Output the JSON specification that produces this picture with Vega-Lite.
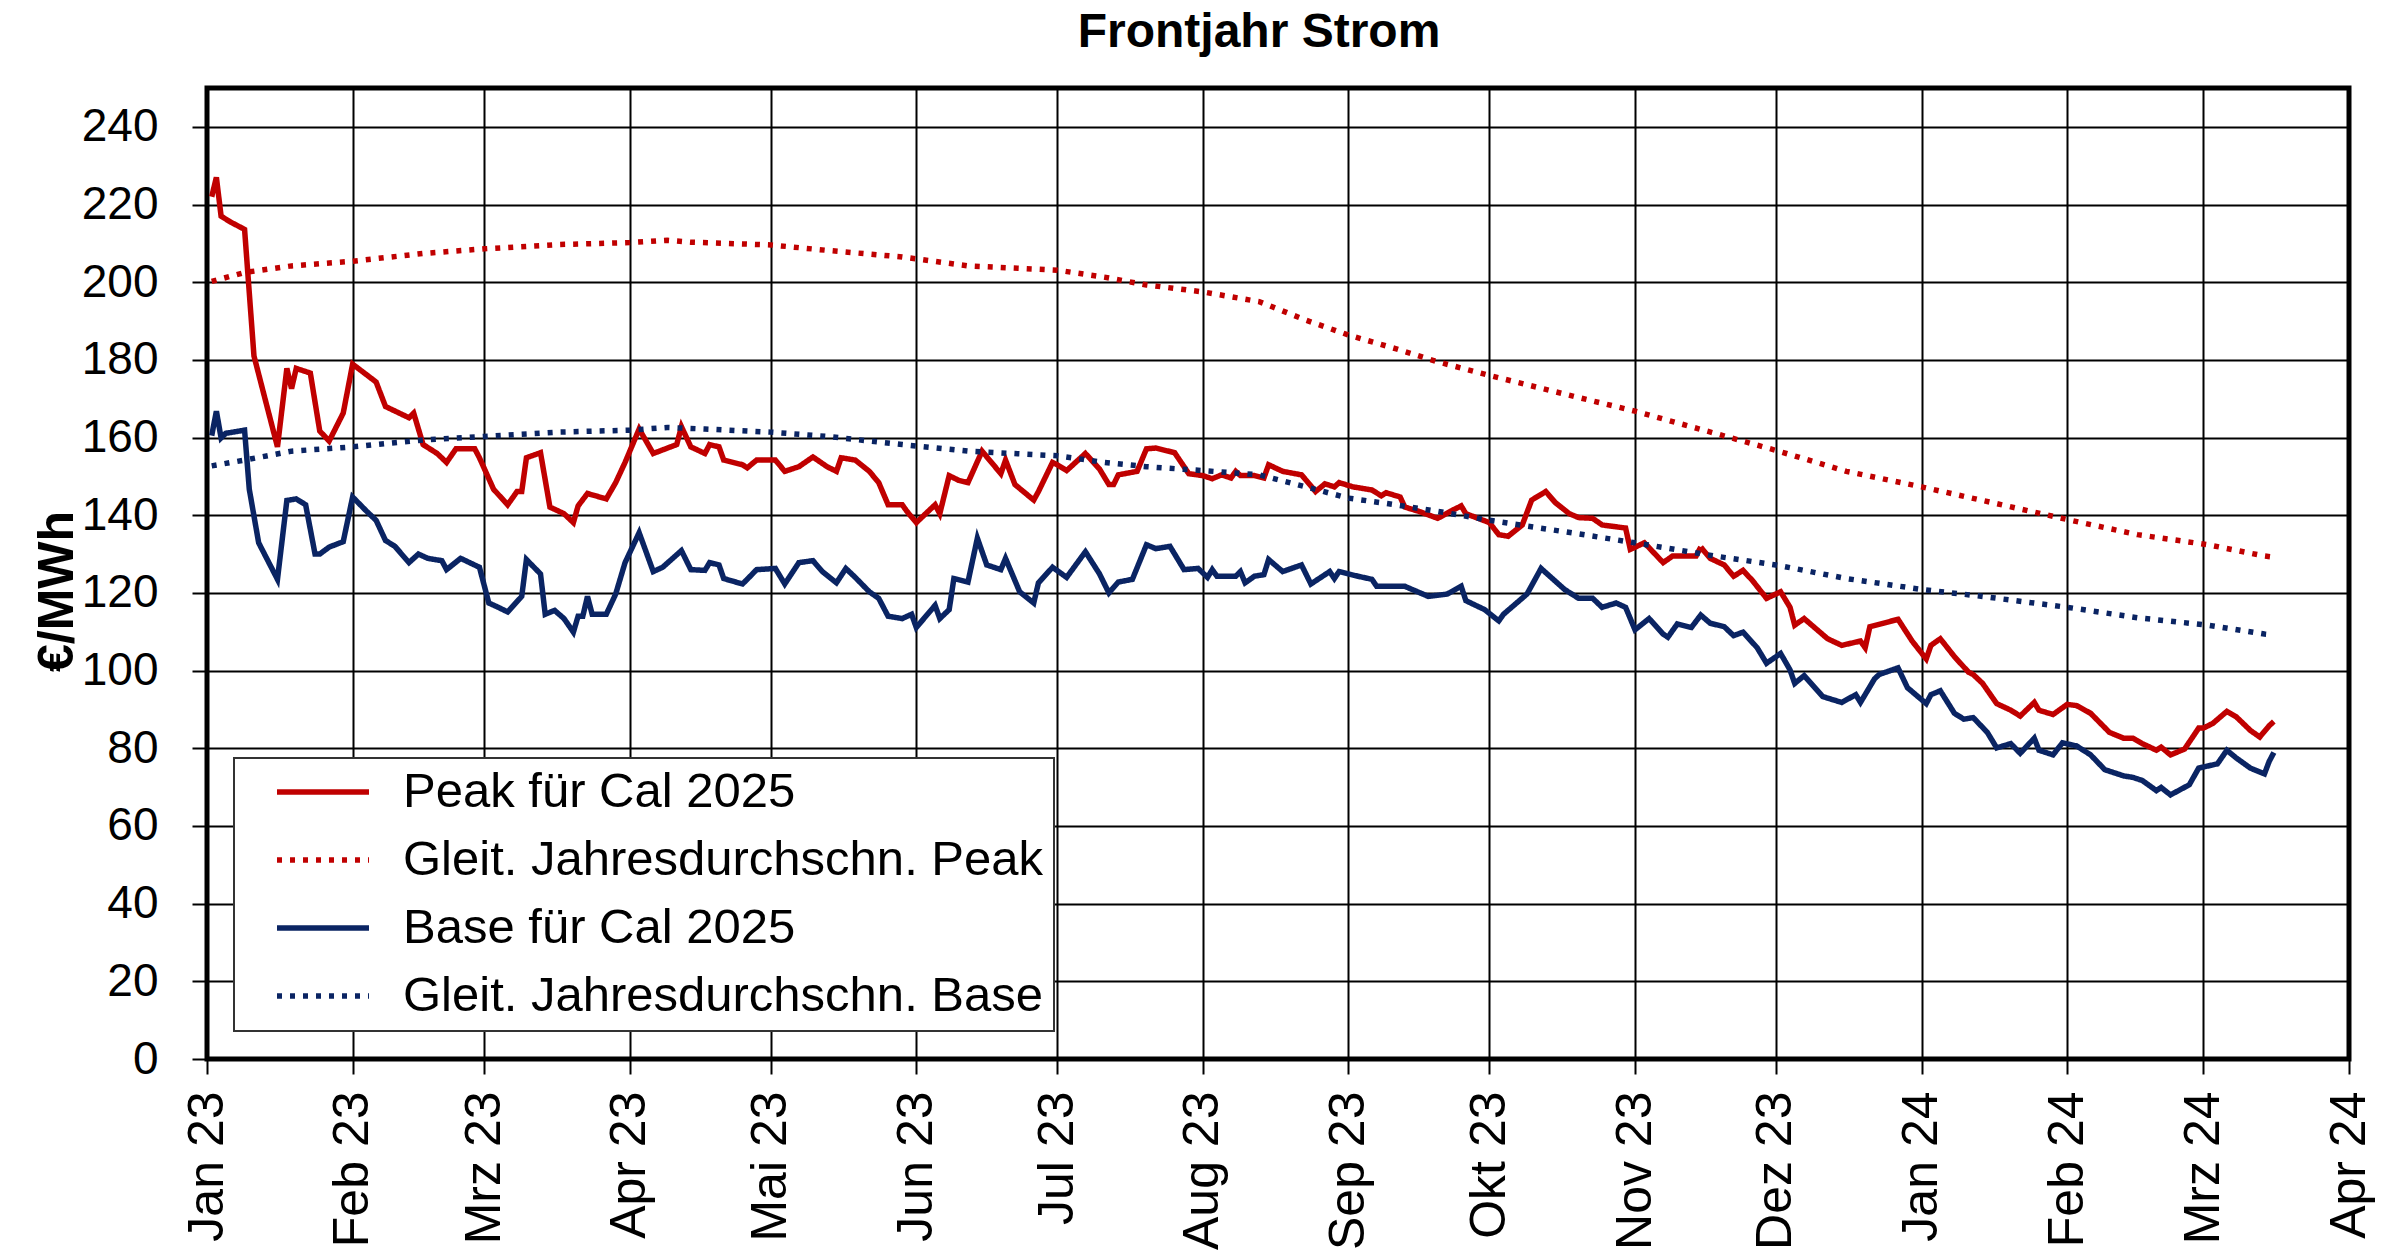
{
"$schema": "https://vega.github.io/schema/vega-lite/v6.json",
"width": 2142, "height": 971,
"autosize": {"type": "none"},
"padding": {"left": 207, "top": 88, "right": 51, "bottom": 193},
"background": "white",
"title": {"text": "Frontjahr Strom", "font": "Liberation Sans", "fontSize": 48, "fontWeight": "bold", "color": "black", "anchor": "middle", "frame": "group", "dx": -19, "offset": 31},
"config": {
  "view": {"stroke": "black", "strokeWidth": 5},
  "font": "Liberation Sans",
  "axis": {"labelFont": "Liberation Sans", "labelColor": "black", "labelFontSize": 46, "tickColor": "black", "tickWidth": 2, "tickSize": 15, "grid": true, "gridColor": "black", "gridWidth": 2, "gridOpacity": 1, "domain": false, "labelOverlap": false, "labelFlush": false, "labelBound": false},
  "legend": {"fillColor": "white", "strokeColor": "#333333", "strokeWidth": 2, "padding": 10,
      "symbolType": "stroke", "symbolSize": 8464, "symbolStrokeWidth": 5.5, "symbolOffset": 30,
      "labelFont": "Liberation Sans", "labelFontSize": 49, "labelOffset": 31, "labelColor": "black", "labelLimit": 0,
      "clipHeight": 48, "rowPadding": 19}
},
"datasets": {
"rows": [
{"s":"p","d":"2023-01-02","v":222},{"s":"p","d":"2023-01-03","v":227},{"s":"p","d":"2023-01-04","v":217},{"s":"p","d":"2023-01-06","v":215.5},{"s":"p","d":"2023-01-09","v":213.6},{"s":"p","d":"2023-01-11","v":181},{"s":"p","d":"2023-01-16","v":157.6},{"s":"p","d":"2023-01-18","v":177.8},{"s":"p","d":"2023-01-19","v":172.6},{"s":"p","d":"2023-01-20","v":177.8},{"s":"p","d":"2023-01-23","v":176.6},{"s":"p","d":"2023-01-25","v":161.7},{"s":"p","d":"2023-01-27","v":159.1},{"s":"p","d":"2023-01-30","v":166.3},
{"s":"p","d":"2023-02-01","v":178.9},{"s":"p","d":"2023-02-06","v":174.3},{"s":"p","d":"2023-02-08","v":168},{"s":"p","d":"2023-02-13","v":165.1},{"s":"p","d":"2023-02-14","v":166.3},{"s":"p","d":"2023-02-16","v":158.2},{"s":"p","d":"2023-02-19","v":155.9},{"s":"p","d":"2023-02-21","v":153.6},{"s":"p","d":"2023-02-23","v":157.1},{"s":"p","d":"2023-02-27","v":157.1},{"s":"p","d":"2023-02-28","v":154.8},
{"s":"p","d":"2023-03-03","v":146.7},{"s":"p","d":"2023-03-06","v":142.7},{"s":"p","d":"2023-03-08","v":146.1},{"s":"p","d":"2023-03-09","v":146.1},{"s":"p","d":"2023-03-10","v":154.8},{"s":"p","d":"2023-03-13","v":156.1},{"s":"p","d":"2023-03-15","v":142.1},{"s":"p","d":"2023-03-18","v":140.4},{"s":"p","d":"2023-03-20","v":138.1},{"s":"p","d":"2023-03-21","v":142.4},{"s":"p","d":"2023-03-23","v":145.6},{"s":"p","d":"2023-03-27","v":144.2},{"s":"p","d":"2023-03-29","v":148.4},{"s":"p","d":"2023-03-31","v":153.6},
{"s":"p","d":"2023-04-03","v":162.2},{"s":"p","d":"2023-04-06","v":155.9},{"s":"p","d":"2023-04-11","v":158.2},{"s":"p","d":"2023-04-12","v":162.8},{"s":"p","d":"2023-04-14","v":157.6},{"s":"p","d":"2023-04-17","v":155.9},{"s":"p","d":"2023-04-18","v":158.2},{"s":"p","d":"2023-04-20","v":157.6},{"s":"p","d":"2023-04-21","v":154.2},{"s":"p","d":"2023-04-25","v":153},{"s":"p","d":"2023-04-26","v":152.2},{"s":"p","d":"2023-04-28","v":154.2},
{"s":"p","d":"2023-05-02","v":154.2},{"s":"p","d":"2023-05-04","v":151.3},{"s":"p","d":"2023-05-07","v":152.5},{"s":"p","d":"2023-05-10","v":155},{"s":"p","d":"2023-05-13","v":152.5},{"s":"p","d":"2023-05-15","v":151.3},{"s":"p","d":"2023-05-16","v":154.8},{"s":"p","d":"2023-05-19","v":154.2},{"s":"p","d":"2023-05-22","v":151.3},{"s":"p","d":"2023-05-24","v":148.4},{"s":"p","d":"2023-05-26","v":142.7},{"s":"p","d":"2023-05-29","v":142.7},{"s":"p","d":"2023-05-30","v":141},
{"s":"p","d":"2023-06-01","v":138.1},{"s":"p","d":"2023-06-03","v":140.4},{"s":"p","d":"2023-06-05","v":142.7},{"s":"p","d":"2023-06-06","v":140.4},{"s":"p","d":"2023-06-08","v":150.2},{"s":"p","d":"2023-06-10","v":149},{"s":"p","d":"2023-06-12","v":148.4},{"s":"p","d":"2023-06-15","v":156.5},{"s":"p","d":"2023-06-19","v":150.7},{"s":"p","d":"2023-06-20","v":154.2},{"s":"p","d":"2023-06-22","v":147.9},{"s":"p","d":"2023-06-26","v":143.9},{"s":"p","d":"2023-06-27","v":146.1},{"s":"p","d":"2023-06-30","v":153.6},
{"s":"p","d":"2023-07-01","v":153},{"s":"p","d":"2023-07-03","v":151.5},{"s":"p","d":"2023-07-07","v":155.9},{"s":"p","d":"2023-07-10","v":151.9},{"s":"p","d":"2023-07-12","v":147.9},{"s":"p","d":"2023-07-13","v":147.9},{"s":"p","d":"2023-07-14","v":150.4},{"s":"p","d":"2023-07-18","v":151.3},{"s":"p","d":"2023-07-20","v":157.1},{"s":"p","d":"2023-07-22","v":157.3},{"s":"p","d":"2023-07-26","v":156.1},{"s":"p","d":"2023-07-29","v":150.7},
{"s":"p","d":"2023-08-01","v":150.2},{"s":"p","d":"2023-08-03","v":149.4},{"s":"p","d":"2023-08-05","v":150.4},{"s":"p","d":"2023-08-07","v":149.6},{"s":"p","d":"2023-08-08","v":151.3},{"s":"p","d":"2023-08-09","v":150.2},{"s":"p","d":"2023-08-12","v":150.2},{"s":"p","d":"2023-08-14","v":149.6},{"s":"p","d":"2023-08-15","v":153},{"s":"p","d":"2023-08-18","v":151.3},{"s":"p","d":"2023-08-22","v":150.4},{"s":"p","d":"2023-08-23","v":149},{"s":"p","d":"2023-08-25","v":146.1},{"s":"p","d":"2023-08-27","v":148.1},{"s":"p","d":"2023-08-29","v":147.3},{"s":"p","d":"2023-08-30","v":148.4},
{"s":"p","d":"2023-09-02","v":147.3},{"s":"p","d":"2023-09-06","v":146.5},{"s":"p","d":"2023-09-08","v":145},{"s":"p","d":"2023-09-09","v":145.8},{"s":"p","d":"2023-09-12","v":144.7},{"s":"p","d":"2023-09-13","v":142.1},{"s":"p","d":"2023-09-16","v":141},{"s":"p","d":"2023-09-20","v":139.2},{"s":"p","d":"2023-09-23","v":141.2},{"s":"p","d":"2023-09-25","v":142.4},{"s":"p","d":"2023-09-26","v":140.4},
{"s":"p","d":"2023-10-01","v":138.1},{"s":"p","d":"2023-10-03","v":135},{"s":"p","d":"2023-10-05","v":134.6},{"s":"p","d":"2023-10-08","v":137.5},{"s":"p","d":"2023-10-10","v":143.9},{"s":"p","d":"2023-10-13","v":146.1},{"s":"p","d":"2023-10-15","v":143.3},{"s":"p","d":"2023-10-18","v":140.4},{"s":"p","d":"2023-10-20","v":139.4},{"s":"p","d":"2023-10-23","v":139.2},{"s":"p","d":"2023-10-25","v":137.5},{"s":"p","d":"2023-10-30","v":136.7},{"s":"p","d":"2023-10-31","v":131.2},
{"s":"p","d":"2023-11-03","v":132.9},{"s":"p","d":"2023-11-07","v":127.8},{"s":"p","d":"2023-11-09","v":129.5},{"s":"p","d":"2023-11-14","v":129.5},{"s":"p","d":"2023-11-15","v":131.8},{"s":"p","d":"2023-11-17","v":128.9},{"s":"p","d":"2023-11-20","v":127.2},{"s":"p","d":"2023-11-22","v":124.3},{"s":"p","d":"2023-11-24","v":125.8},{"s":"p","d":"2023-11-26","v":123.2},{"s":"p","d":"2023-11-29","v":118.6},
{"s":"p","d":"2023-12-02","v":120.3},{"s":"p","d":"2023-12-04","v":116.3},{"s":"p","d":"2023-12-05","v":111.7},{"s":"p","d":"2023-12-07","v":113.4},{"s":"p","d":"2023-12-12","v":108.2},{"s":"p","d":"2023-12-15","v":106.5},{"s":"p","d":"2023-12-19","v":107.6},{"s":"p","d":"2023-12-20","v":105.9},{"s":"p","d":"2023-12-21","v":111.3},{"s":"p","d":"2023-12-27","v":113.2},{"s":"p","d":"2023-12-30","v":107.6},
{"s":"p","d":"2024-01-02","v":103},{"s":"p","d":"2024-01-03","v":106.5},{"s":"p","d":"2024-01-05","v":108.2},{"s":"p","d":"2024-01-08","v":103.6},{"s":"p","d":"2024-01-11","v":99.6},{"s":"p","d":"2024-01-12","v":99},{"s":"p","d":"2024-01-14","v":96.7},{"s":"p","d":"2024-01-17","v":91.5},{"s":"p","d":"2024-01-20","v":89.8},{"s":"p","d":"2024-01-22","v":88.3},{"s":"p","d":"2024-01-25","v":91.8},{"s":"p","d":"2024-01-26","v":89.8},{"s":"p","d":"2024-01-29","v":88.7},
{"s":"p","d":"2024-02-01","v":91.3},{"s":"p","d":"2024-02-03","v":91},{"s":"p","d":"2024-02-06","v":89},{"s":"p","d":"2024-02-10","v":84.1},{"s":"p","d":"2024-02-13","v":82.6},{"s":"p","d":"2024-02-15","v":82.6},{"s":"p","d":"2024-02-17","v":81.2},{"s":"p","d":"2024-02-20","v":79.5},{"s":"p","d":"2024-02-21","v":80.3},{"s":"p","d":"2024-02-23","v":78.3},{"s":"p","d":"2024-02-26","v":79.8},{"s":"p","d":"2024-02-29","v":85.2},
{"s":"p","d":"2024-03-01","v":85.2},{"s":"p","d":"2024-03-03","v":86.4},{"s":"p","d":"2024-03-06","v":89.5},{"s":"p","d":"2024-03-08","v":88.1},{"s":"p","d":"2024-03-11","v":84.6},{"s":"p","d":"2024-03-13","v":82.9},{"s":"p","d":"2024-03-15","v":85.8},{"s":"p","d":"2024-03-16","v":86.9},

{"s":"b","d":"2023-01-02","v":160.5},{"s":"b","d":"2023-01-03","v":166.8},{"s":"b","d":"2023-01-04","v":159.9},{"s":"b","d":"2023-01-05","v":161.1},{"s":"b","d":"2023-01-09","v":161.9},{"s":"b","d":"2023-01-10","v":146.7},{"s":"b","d":"2023-01-12","v":132.9},{"s":"b","d":"2023-01-16","v":123.5},{"s":"b","d":"2023-01-18","v":143.8},{"s":"b","d":"2023-01-20","v":144.2},{"s":"b","d":"2023-01-22","v":142.7},{"s":"b","d":"2023-01-24","v":130},{"s":"b","d":"2023-01-25","v":130},{"s":"b","d":"2023-01-27","v":131.8},{"s":"b","d":"2023-01-30","v":133.2},
{"s":"b","d":"2023-02-01","v":144.7},{"s":"b","d":"2023-02-04","v":141},{"s":"b","d":"2023-02-06","v":138.7},{"s":"b","d":"2023-02-08","v":133.5},{"s":"b","d":"2023-02-10","v":132},{"s":"b","d":"2023-02-13","v":127.8},{"s":"b","d":"2023-02-15","v":130},{"s":"b","d":"2023-02-17","v":128.9},{"s":"b","d":"2023-02-20","v":128.3},{"s":"b","d":"2023-02-21","v":126},{"s":"b","d":"2023-02-24","v":128.9},{"s":"b","d":"2023-02-28","v":126.6},
{"s":"b","d":"2023-03-02","v":117.4},{"s":"b","d":"2023-03-04","v":116.3},{"s":"b","d":"2023-03-06","v":115.1},{"s":"b","d":"2023-03-09","v":119.1},{"s":"b","d":"2023-03-10","v":128.6},{"s":"b","d":"2023-03-13","v":124.9},{"s":"b","d":"2023-03-14","v":114.5},{"s":"b","d":"2023-03-16","v":115.5},{"s":"b","d":"2023-03-18","v":113.4},{"s":"b","d":"2023-03-20","v":109.9},{"s":"b","d":"2023-03-21","v":114},{"s":"b","d":"2023-03-22","v":114},{"s":"b","d":"2023-03-23","v":119.1},{"s":"b","d":"2023-03-24","v":114.5},{"s":"b","d":"2023-03-27","v":114.5},{"s":"b","d":"2023-03-29","v":119.7},{"s":"b","d":"2023-03-31","v":127.8},
{"s":"b","d":"2023-04-03","v":135.5},{"s":"b","d":"2023-04-06","v":125.5},{"s":"b","d":"2023-04-08","v":126.6},{"s":"b","d":"2023-04-12","v":130.9},{"s":"b","d":"2023-04-14","v":126},{"s":"b","d":"2023-04-17","v":125.8},{"s":"b","d":"2023-04-18","v":127.8},{"s":"b","d":"2023-04-20","v":127.2},{"s":"b","d":"2023-04-21","v":123.7},{"s":"b","d":"2023-04-25","v":122.3},{"s":"b","d":"2023-04-26","v":123.5},{"s":"b","d":"2023-04-28","v":126},
{"s":"b","d":"2023-05-02","v":126.3},{"s":"b","d":"2023-05-04","v":122.3},{"s":"b","d":"2023-05-07","v":127.8},{"s":"b","d":"2023-05-10","v":128.3},{"s":"b","d":"2023-05-12","v":125.5},{"s":"b","d":"2023-05-15","v":122.6},{"s":"b","d":"2023-05-17","v":126.3},{"s":"b","d":"2023-05-19","v":124},{"s":"b","d":"2023-05-22","v":120.3},{"s":"b","d":"2023-05-24","v":118.6},{"s":"b","d":"2023-05-26","v":114},{"s":"b","d":"2023-05-29","v":113.4},{"s":"b","d":"2023-05-31","v":114.5},
{"s":"b","d":"2023-06-01","v":111.1},{"s":"b","d":"2023-06-05","v":116.8},{"s":"b","d":"2023-06-06","v":113.4},{"s":"b","d":"2023-06-08","v":115.7},{"s":"b","d":"2023-06-09","v":123.7},{"s":"b","d":"2023-06-12","v":122.8},{"s":"b","d":"2023-06-14","v":134.1},{"s":"b","d":"2023-06-16","v":127.2},{"s":"b","d":"2023-06-19","v":126},{"s":"b","d":"2023-06-20","v":128.9},{"s":"b","d":"2023-06-23","v":120.3},{"s":"b","d":"2023-06-26","v":117.4},{"s":"b","d":"2023-06-27","v":122.6},{"s":"b","d":"2023-06-30","v":126.6},
{"s":"b","d":"2023-07-03","v":124},{"s":"b","d":"2023-07-07","v":130.6},{"s":"b","d":"2023-07-10","v":124.9},{"s":"b","d":"2023-07-12","v":120},{"s":"b","d":"2023-07-14","v":122.8},{"s":"b","d":"2023-07-17","v":123.5},{"s":"b","d":"2023-07-20","v":132.4},{"s":"b","d":"2023-07-22","v":131.4},{"s":"b","d":"2023-07-25","v":132},{"s":"b","d":"2023-07-28","v":126},{"s":"b","d":"2023-07-31","v":126.3},
{"s":"b","d":"2023-08-02","v":124},{"s":"b","d":"2023-08-03","v":126},{"s":"b","d":"2023-08-04","v":124.3},{"s":"b","d":"2023-08-08","v":124.3},{"s":"b","d":"2023-08-09","v":125.5},{"s":"b","d":"2023-08-10","v":122.6},{"s":"b","d":"2023-08-12","v":124.3},{"s":"b","d":"2023-08-14","v":124.7},{"s":"b","d":"2023-08-15","v":128.6},{"s":"b","d":"2023-08-18","v":125.5},{"s":"b","d":"2023-08-22","v":127.2},{"s":"b","d":"2023-08-24","v":122.3},{"s":"b","d":"2023-08-28","v":125.5},{"s":"b","d":"2023-08-29","v":123.7},{"s":"b","d":"2023-08-30","v":125.5},
{"s":"b","d":"2023-09-03","v":124.3},{"s":"b","d":"2023-09-06","v":123.5},{"s":"b","d":"2023-09-07","v":121.7},{"s":"b","d":"2023-09-13","v":121.7},{"s":"b","d":"2023-09-18","v":119.1},{"s":"b","d":"2023-09-22","v":119.7},{"s":"b","d":"2023-09-25","v":121.7},{"s":"b","d":"2023-09-26","v":118},{"s":"b","d":"2023-09-30","v":115.7},
{"s":"b","d":"2023-10-03","v":112.8},{"s":"b","d":"2023-10-04","v":114.5},{"s":"b","d":"2023-10-09","v":119.7},{"s":"b","d":"2023-10-12","v":126.3},{"s":"b","d":"2023-10-17","v":120.9},{"s":"b","d":"2023-10-20","v":118.6},{"s":"b","d":"2023-10-23","v":118.6},{"s":"b","d":"2023-10-25","v":116.3},{"s":"b","d":"2023-10-28","v":117.4},{"s":"b","d":"2023-10-30","v":116.3},
{"s":"b","d":"2023-11-01","v":110.5},{"s":"b","d":"2023-11-04","v":113.4},{"s":"b","d":"2023-11-07","v":109.4},{"s":"b","d":"2023-11-08","v":108.6},{"s":"b","d":"2023-11-10","v":112},{"s":"b","d":"2023-11-13","v":111.1},{"s":"b","d":"2023-11-15","v":114.3},{"s":"b","d":"2023-11-17","v":112.2},{"s":"b","d":"2023-11-20","v":111.3},{"s":"b","d":"2023-11-22","v":109},{"s":"b","d":"2023-11-24","v":109.9},{"s":"b","d":"2023-11-27","v":105.9},{"s":"b","d":"2023-11-29","v":101.9},
{"s":"b","d":"2023-12-02","v":104.4},{"s":"b","d":"2023-12-04","v":100.2},{"s":"b","d":"2023-12-05","v":96.7},{"s":"b","d":"2023-12-07","v":98.7},{"s":"b","d":"2023-12-11","v":93.3},{"s":"b","d":"2023-12-15","v":91.8},{"s":"b","d":"2023-12-18","v":93.8},{"s":"b","d":"2023-12-19","v":91.8},{"s":"b","d":"2023-12-22","v":97.9},{"s":"b","d":"2023-12-23","v":99},{"s":"b","d":"2023-12-27","v":100.7},{"s":"b","d":"2023-12-29","v":95.6},
{"s":"b","d":"2024-01-02","v":91.5},{"s":"b","d":"2024-01-03","v":93.8},{"s":"b","d":"2024-01-05","v":94.8},{"s":"b","d":"2024-01-08","v":89},{"s":"b","d":"2024-01-10","v":87.5},{"s":"b","d":"2024-01-12","v":87.9},{"s":"b","d":"2024-01-15","v":84.1},{"s":"b","d":"2024-01-17","v":80.1},{"s":"b","d":"2024-01-20","v":81.2},{"s":"b","d":"2024-01-22","v":78.7},{"s":"b","d":"2024-01-25","v":82.6},{"s":"b","d":"2024-01-26","v":79.5},{"s":"b","d":"2024-01-29","v":78.3},{"s":"b","d":"2024-01-31","v":81.4},
{"s":"b","d":"2024-02-03","v":80.6},{"s":"b","d":"2024-02-06","v":78.3},{"s":"b","d":"2024-02-09","v":74.5},{"s":"b","d":"2024-02-13","v":72.9},{"s":"b","d":"2024-02-15","v":72.5},{"s":"b","d":"2024-02-17","v":71.7},{"s":"b","d":"2024-02-20","v":69.1},{"s":"b","d":"2024-02-21","v":69.9},{"s":"b","d":"2024-02-23","v":68},{"s":"b","d":"2024-02-27","v":70.6},{"s":"b","d":"2024-02-29","v":74.9},
{"s":"b","d":"2024-03-04","v":76},{"s":"b","d":"2024-03-06","v":79.5},{"s":"b","d":"2024-03-08","v":77.5},{"s":"b","d":"2024-03-11","v":74.9},{"s":"b","d":"2024-03-14","v":73.4},{"s":"b","d":"2024-03-15","v":76.6},{"s":"b","d":"2024-03-16","v":78.9},

{"s":"pa","d":"2023-01-02","v":200.2},{"s":"pa","d":"2023-01-09","v":202.5},{"s":"pa","d":"2023-01-19","v":204.2},{"s":"pa","d":"2023-02-01","v":205.4},{"s":"pa","d":"2023-02-16","v":207.4},{"s":"pa","d":"2023-03-01","v":208.6},{"s":"pa","d":"2023-03-17","v":209.7},{"s":"pa","d":"2023-04-01","v":210.2},{"s":"pa","d":"2023-04-09","v":210.8},{"s":"pa","d":"2023-04-14","v":210.3},{"s":"pa","d":"2023-05-01","v":209.6},{"s":"pa","d":"2023-05-13","v":208.2},{"s":"pa","d":"2023-05-29","v":206.5},{"s":"pa","d":"2023-06-12","v":204.2},{"s":"pa","d":"2023-07-01","v":203.1},{"s":"pa","d":"2023-07-11","v":201.3},{"s":"pa","d":"2023-07-20","v":199.3},{"s":"pa","d":"2023-08-01","v":197.5},{"s":"pa","d":"2023-08-13","v":195},{"s":"pa","d":"2023-08-23","v":190.2},{"s":"pa","d":"2023-09-01","v":186.4},{"s":"pa","d":"2023-09-11","v":182.9},{"s":"pa","d":"2023-09-20","v":179.5},{"s":"pa","d":"2023-10-01","v":176},{"s":"pa","d":"2023-10-20","v":170.3},{"s":"pa","d":"2023-11-01","v":166.8},{"s":"pa","d":"2023-11-18","v":161.1},{"s":"pa","d":"2023-12-01","v":156.7},{"s":"pa","d":"2023-12-16","v":151.3},{"s":"pa","d":"2024-01-01","v":147.3},{"s":"pa","d":"2024-01-14","v":143.8},{"s":"pa","d":"2024-02-01","v":138.9},{"s":"pa","d":"2024-02-16","v":135},{"s":"pa","d":"2024-03-02","v":132.4},{"s":"pa","d":"2024-03-14","v":129.5},{"s":"pa","d":"2024-03-16","v":129.2},

{"s":"ba","d":"2023-01-02","v":152.7},{"s":"ba","d":"2023-01-09","v":154.2},{"s":"ba","d":"2023-01-19","v":156.5},{"s":"ba","d":"2023-02-01","v":157.6},{"s":"ba","d":"2023-02-16","v":159.4},{"s":"ba","d":"2023-03-01","v":160.3},{"s":"ba","d":"2023-03-17","v":161.4},{"s":"ba","d":"2023-04-01","v":161.9},{"s":"ba","d":"2023-04-09","v":162.6},{"s":"ba","d":"2023-04-17","v":162.2},{"s":"ba","d":"2023-05-01","v":161.4},{"s":"ba","d":"2023-05-13","v":160.3},{"s":"ba","d":"2023-05-29","v":158.2},{"s":"ba","d":"2023-06-12","v":156.5},{"s":"ba","d":"2023-07-01","v":155.3},{"s":"ba","d":"2023-07-11","v":153.6},{"s":"ba","d":"2023-07-20","v":152.5},{"s":"ba","d":"2023-08-01","v":151.5},{"s":"ba","d":"2023-08-13","v":150.4},{"s":"ba","d":"2023-08-23","v":147.3},{"s":"ba","d":"2023-09-01","v":144.4},{"s":"ba","d":"2023-09-11","v":142.7},{"s":"ba","d":"2023-09-20","v":141},{"s":"ba","d":"2023-10-01","v":138.7},{"s":"ba","d":"2023-10-20","v":135.2},{"s":"ba","d":"2023-11-01","v":132.9},{"s":"ba","d":"2023-11-18","v":129.5},{"s":"ba","d":"2023-12-01","v":127.2},{"s":"ba","d":"2023-12-16","v":123.7},{"s":"ba","d":"2024-01-01","v":120.9},{"s":"ba","d":"2024-01-14","v":119.1},{"s":"ba","d":"2024-02-01","v":116.3},{"s":"ba","d":"2024-02-16","v":113.6},{"s":"ba","d":"2024-03-02","v":111.7},{"s":"ba","d":"2024-03-14","v":109.4},{"s":"ba","d":"2024-03-16","v":109.2}
]
},
"data": {"name": "rows"},
"mark": {"type": "line", "strokeWidth": 5.5, "interpolate": "linear"},
"encoding": {
  "x": {"field": "d", "type": "temporal",
    "scale": {"type": "utc", "domain": [{"year": 2023, "month": 1, "date": 1, "utc": true}, {"year": 2024, "month": 4, "date": 1, "utc": true}]},
    "axis": {"title": null, "labelAngle": 270, "labelPadding": 17, "labelFontSize": 50,
      "values": [{"year":2023,"month":1,"date":1,"utc":true},{"year":2023,"month":2,"date":1,"utc":true},{"year":2023,"month":3,"date":1,"utc":true},{"year":2023,"month":4,"date":1,"utc":true},{"year":2023,"month":5,"date":1,"utc":true},{"year":2023,"month":6,"date":1,"utc":true},{"year":2023,"month":7,"date":1,"utc":true},{"year":2023,"month":8,"date":1,"utc":true},{"year":2023,"month":9,"date":1,"utc":true},{"year":2023,"month":10,"date":1,"utc":true},{"year":2023,"month":11,"date":1,"utc":true},{"year":2023,"month":12,"date":1,"utc":true},{"year":2024,"month":1,"date":1,"utc":true},{"year":2024,"month":2,"date":1,"utc":true},{"year":2024,"month":3,"date":1,"utc":true},{"year":2024,"month":4,"date":1,"utc":true}],
      "labelExpr": "['Jan','Feb','Mrz','Apr','Mai','Jun','Jul','Aug','Sep','Okt','Nov','Dez'][utcmonth(datum.value)] + ' ' + utcFormat(datum.value, '%y')"}},
  "y": {"field": "v", "type": "quantitative",
    "scale": {"domain": [0, 250], "nice": false, "zero": false},
    "axis": {"values": [0,20,40,60,80,100,120,140,160,180,200,220,240], "labelPadding": 34,
      "title": "€/MWh", "titleFont": "Liberation Sans", "titleFontSize": 50, "titleFontWeight": "bold", "titleColor": "black",
      "titleAngle": 270, "titleAlign": "center", "titleBaseline": "middle", "titleX": -150, "titleY": 503}},
  "color": {"field": "s", "type": "nominal",
    "scale": {"domain": ["p", "pa", "b", "ba"], "range": ["#C00000", "#C00000", "#0A2463", "#0A2463"]},
    "legend": {"title": null, "orient": "none", "legendX": 27, "legendY": 670, "direction": "vertical",
      "labelExpr": "datum.label == 'p' ? 'Peak für Cal 2025' : datum.label == 'pa' ? 'Gleit. Jahresdurchschn. Peak' : datum.label == 'b' ? 'Base für Cal 2025' : 'Gleit. Jahresdurchschn. Base'"}},
  "strokeDash": {"field": "s", "type": "nominal",
    "scale": {"domain": ["p", "pa", "b", "ba"], "range": [[1, 0], [5, 8], [1, 0], [5, 8]]},
    "legend": {"title": null, "orient": "none", "legendX": 27, "legendY": 670, "direction": "vertical",
      "labelExpr": "datum.label == 'p' ? 'Peak für Cal 2025' : datum.label == 'pa' ? 'Gleit. Jahresdurchschn. Peak' : datum.label == 'b' ? 'Base für Cal 2025' : 'Gleit. Jahresdurchschn. Base'"}}
}
}
